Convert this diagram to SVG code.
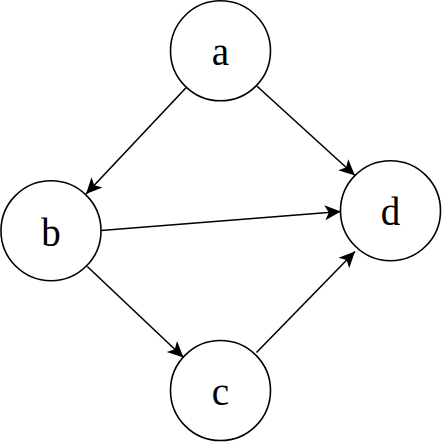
<svg xmlns="http://www.w3.org/2000/svg" width="442" height="442" viewBox="0 0 442 442">
<style>
.node circle { fill: #ffffff; stroke: #000000; stroke-width: 1.6; }
.node text { font-family: "Liberation Serif", "Times New Roman", serif; font-size: 39px; fill: #000000; text-anchor: middle; }
.edge { stroke: #000000; stroke-width: 1.6; fill: none; marker-end: url(#arrow); }
</style>
<defs>
<marker id="arrow" markerUnits="userSpaceOnUse" viewBox="-17 -9 18 18" markerWidth="18" markerHeight="18" refX="0" refY="0" orient="auto">
<path d="M0,0 L-16,-7.5 L-12,0 L-16,7.5 Z" fill="#000000"/>
</marker>
</defs>
<rect width="442" height="442" fill="#ffffff"/>
<g id="connectors">
<line class="edge" x1="186.5" y1="87.3" x2="86" y2="194"/>
<line class="edge" x1="256.8" y1="86" x2="355" y2="175.5"/>
<line class="edge" x1="101" y1="230.5" x2="340.8" y2="211.5"/>
<line class="edge" x1="87.3" y1="266.5" x2="183.5" y2="357.5"/>
<line class="edge" x1="256.5" y1="352.5" x2="355" y2="251.5"/>
</g>
<g id="node-a" class="node">
<circle cx="220.5" cy="50.8" r="50"/>
<text x="220.5" y="65">a</text>
</g>
<g id="node-b" class="node">
<circle cx="51" cy="230.7" r="50"/>
<text x="51" y="245.7">b</text>
</g>
<g id="node-c" class="node">
<circle cx="220.5" cy="390.5" r="50"/>
<text x="220.5" y="405">c</text>
</g>
<g id="node-d" class="node">
<circle cx="390.5" cy="210.7" r="50"/>
<text x="390.5" y="225">d</text>
</g>
</svg>
